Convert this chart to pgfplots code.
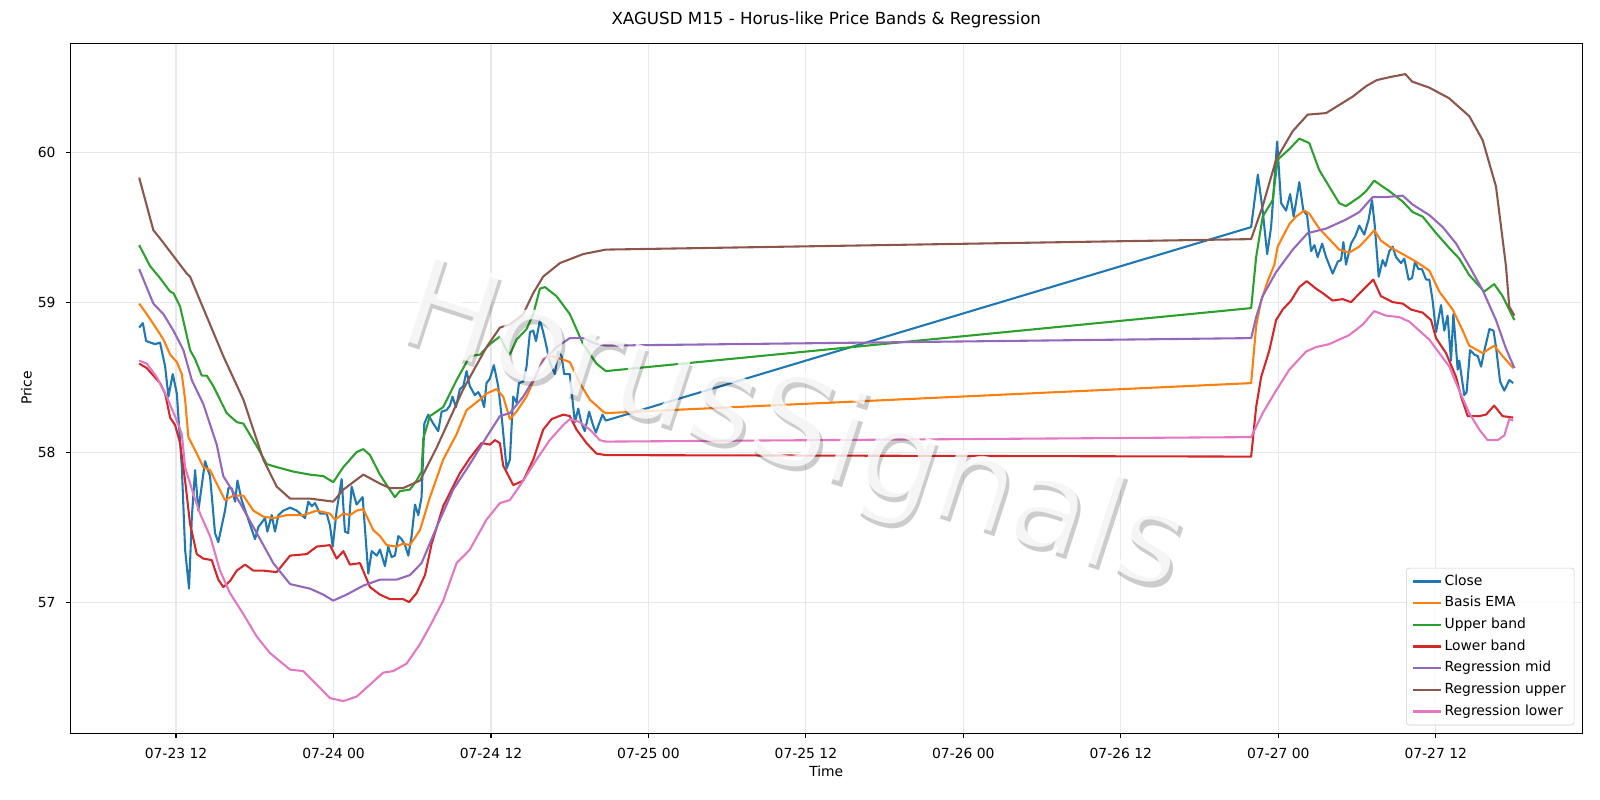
\documentclass[border=0pt]{standalone}
\usepackage{fontspec}
\setmainfont{DejaVu Sans}
\usepackage{pgfplots}
\pgfplotsset{compat=1.18}
\definecolor{c0}{HTML}{1F77B4}
\definecolor{c1}{HTML}{FF7F0E}
\definecolor{c2}{HTML}{2CA02C}
\definecolor{c3}{HTML}{D62728}
\definecolor{c4}{HTML}{9467BD}
\definecolor{c5}{HTML}{8C564B}
\definecolor{c6}{HTML}{E377C2}
\tikzset{wm/.style={rotate=-18, font=\fontsize{90}{106}\selectfont}}
\begin{document}
\begin{tikzpicture}[x=1pt,y=1pt]
\path[use as bounding box] (0,0) rectangle (1152,576);
\begin{axis}[
  at={(50.7pt,48.2pt)}, anchor=south west,
  scale only axis, width=1088.4pt, height=496.8pt,
  xmin=3.95, xmax=119.15, ymin=56.127, ymax=60.727,
  xtick={12,24,36,48,60,72,84,96,108},
  xticklabels={07-23 12,07-24 00,07-24 12,07-25 00,07-25 12,07-26 00,07-26 12,07-27 00,07-27 12},
  ytick={57,58,59,60},
  /pgf/number format/assume math mode=true,
  tick label style={font=\fontsize{10}{12}\selectfont},
  xticklabel style={yshift=-4.2pt},
  yticklabel style={xshift=-3.7pt},
  tick pos=left,
  tick align=outside, major tick length=3.5pt,
  tick style={black, line width=0.8pt},
  axis line style={line width=0.8pt},
  grid=major, major grid style={color=black!9, line width=0.8pt},
  xlabel={Time}, ylabel={Price},
  xlabel style={at={(axis description cs:0.5,-0.055)}, anchor=center, font=\fontsize{10}{12}\selectfont},
  ylabel style={at={(axis description cs:-0.029,0.5)}, anchor=center, font=\fontsize{10}{12}\selectfont},
  title={XAGUSD M15 - Horus-like Price Bands \& Regression},
  title style={at={(0.5,1)}, anchor=base, yshift=7.2pt, font=\fontsize{12}{14}\selectfont},
  legend style={at={(1,0)}, anchor=south east, xshift=-5.6pt, yshift=5.6pt,
    draw=black!20, fill=white, fill opacity=0.8, text opacity=1, rounded corners=2pt,
    font=\fontsize{10}{12}\selectfont, row sep=5.8pt, inner xsep=4pt, inner ysep=4.8pt,
    nodes={text height=7.6pt, text depth=2.2pt, inner ysep=0pt}},
  legend cell align=left,
  legend image code/.code={\draw[#1] (0pt,0pt) -- (20pt,0pt);},
  every axis plot/.append style={line width=1.5pt, line join=round},
]
\addplot[c0] coordinates {(9.19,58.83)(9.47,58.86)(9.72,58.74)(10.40,58.72)(10.78,58.73)(11.17,58.57)(11.42,58.37)(11.75,58.52)(12.06,58.39)(12.44,57.90)(12.69,57.35)(12.99,57.09)(13.20,57.56)(13.45,57.88)(13.70,57.61)(14.21,57.94)(14.59,57.84)(14.97,57.46)(15.22,57.40)(15.73,57.61)(15.99,57.76)(16.24,57.76)(16.50,57.67)(16.68,57.81)(17.00,57.68)(17.51,57.55)(18.02,57.42)(18.27,57.50)(18.78,57.56)(18.96,57.47)(19.29,57.58)(19.54,57.47)(19.80,57.58)(20.18,57.61)(20.69,57.63)(21.20,57.61)(21.83,57.56)(22.08,57.67)(22.34,57.64)(22.59,57.66)(22.97,57.59)(23.48,57.59)(23.73,57.51)(23.94,57.37)(24.24,57.61)(24.62,57.82)(24.87,57.47)(25.12,57.46)(25.38,57.77)(25.76,57.65)(26.22,57.70)(26.65,57.19)(26.91,57.34)(27.29,57.31)(27.54,57.35)(27.92,57.24)(28.17,57.37)(28.43,57.30)(28.68,57.31)(28.94,57.44)(29.19,57.42)(29.45,57.38)(29.70,57.31)(29.95,57.44)(30.21,57.65)(30.46,57.58)(30.71,57.70)(30.92,58.19)(31.22,58.25)(31.60,58.19)(31.98,58.14)(32.24,58.27)(32.62,58.28)(32.87,58.31)(33.07,58.37)(33.33,58.30)(33.63,58.42)(33.89,58.44)(34.14,58.54)(34.39,58.44)(34.77,58.38)(35.03,58.40)(35.28,58.36)(35.48,58.30)(35.66,58.46)(35.92,58.49)(36.22,58.58)(36.55,58.44)(36.81,58.24)(37.19,57.89)(37.44,57.95)(37.69,58.37)(37.95,58.33)(38.13,58.46)(38.46,58.47)(38.71,58.57)(38.97,58.80)(39.22,58.81)(39.43,58.74)(39.73,58.88)(39.98,58.80)(40.24,58.70)(40.48,58.60)(40.87,58.52)(41.12,58.67)(41.38,58.64)(41.58,58.52)(42.01,58.52)(42.27,58.30)(42.39,58.20)(42.65,58.29)(42.90,58.19)(43.15,58.14)(43.48,58.27)(43.74,58.19)(43.99,58.13)(44.24,58.19)(44.50,58.25)(44.75,58.21)
(93.93,59.50)(94.44,59.85)(94.81,59.61)(95.15,59.32)(95.45,59.50)(95.91,60.07)(96.21,59.66)(96.59,59.61)(96.90,59.72)(97.17,59.57)(97.60,59.80)(97.91,59.61)(98.19,59.58)(98.50,59.34)(98.75,59.38)(99.00,59.30)(99.34,59.39)(99.64,59.30)(100.14,59.19)(100.53,59.27)(100.78,59.28)(100.96,59.40)(101.16,59.25)(101.54,59.39)(101.87,59.44)(102.17,59.51)(102.55,59.45)(102.88,59.55)(103.14,59.68)(103.34,59.52)(103.65,59.17)(103.95,59.28)(104.16,59.24)(104.46,59.34)(104.71,59.37)(104.97,59.30)(105.35,59.26)(105.60,59.29)(105.93,59.15)(106.19,59.16)(106.42,59.27)(106.67,59.22)(106.95,59.22)(107.26,59.15)(107.51,59.15)(107.76,59.01)(108.02,58.80)(108.40,58.98)(108.65,58.81)(108.90,58.91)(109.16,58.61)(109.34,58.92)(109.67,58.55)(109.79,58.61)(110.17,58.38)(110.35,58.40)(110.61,58.68)(110.94,58.65)(111.20,58.64)(111.45,58.57)(111.71,58.68)(112.09,58.82)(112.40,58.81)(112.59,58.70)(112.90,58.47)(113.22,58.41)(113.60,58.48)(113.90,58.46)};
\addlegendentry{Close}

\addplot[c1] coordinates {(9.19,58.99)(9.77,58.92)(10.53,58.82)(11.04,58.75)(11.55,58.65)(12.06,58.60)(12.44,58.52)(12.69,58.35)(12.94,58.10)(13.58,57.99)(14.08,57.90)(14.59,57.88)(15.10,57.79)(15.73,57.68)(16.37,57.71)(17.13,57.71)(17.89,57.61)(18.65,57.57)(19.41,57.56)(20.43,57.58)(21.70,57.58)(22.72,57.61)(23.73,57.59)(24.11,57.55)(24.75,57.59)(25.25,57.58)(25.76,57.61)(26.27,57.62)(27.03,57.48)(27.54,57.44)(28.05,57.38)(28.81,57.37)(29.30,57.39)(29.82,57.38)(30.59,57.48)(31.35,57.70)(32.36,57.95)(33.38,58.12)(34.14,58.28)(35.16,58.35)(35.66,58.39)(36.42,58.42)(36.93,58.37)(37.44,58.22)(37.95,58.27)(38.71,58.37)(39.47,58.52)(39.98,58.62)(40.62,58.64)(41.38,58.62)(42.01,58.60)(42.77,58.46)(43.53,58.35)(44.55,58.27)(44.75,58.26)
(93.93,58.46)(94.31,58.84)(94.69,59.01)(95.19,59.14)(95.70,59.25)(95.95,59.37)(96.84,59.52)(97.35,59.57)(97.98,59.61)(98.36,59.59)(99.12,59.49)(99.88,59.42)(100.64,59.35)(101.40,59.33)(102.17,59.37)(102.93,59.44)(103.31,59.48)(103.82,59.41)(104.46,59.37)(105.48,59.32)(106.49,59.27)(107.51,59.21)(108.27,59.07)(109.29,58.95)(110.05,58.81)(110.55,58.71)(111.57,58.66)(112.45,58.71)(113.09,58.64)(113.90,58.56)};
\addlegendentry{Basis EMA}

\addplot[c2] coordinates {(9.19,59.38)(10.02,59.24)(10.78,59.16)(11.55,59.07)(11.80,59.06)(12.31,58.97)(13.07,58.68)(13.45,58.62)(13.96,58.51)(14.34,58.51)(14.84,58.44)(15.86,58.26)(16.63,58.20)(17.13,58.19)(18.15,58.04)(18.91,57.92)(19.67,57.90)(20.94,57.87)(22.20,57.85)(23.22,57.84)(23.98,57.80)(24.75,57.90)(25.76,58.00)(26.27,58.02)(26.78,57.98)(27.54,57.85)(28.05,57.78)(28.68,57.70)(29.06,57.74)(29.82,57.75)(30.33,57.81)(30.71,57.87)(30.84,58.09)(31.35,58.24)(32.36,58.30)(33.38,58.48)(34.39,58.64)(35.16,58.65)(35.92,58.72)(36.68,58.77)(37.19,58.68)(37.44,58.65)(37.95,58.75)(38.71,58.82)(39.22,58.92)(39.73,59.09)(40.11,59.10)(40.99,59.04)(42.01,58.92)(43.02,58.72)(44.04,58.59)(44.75,58.54)
(93.93,58.96)(94.31,59.30)(94.81,59.57)(95.57,59.68)(95.95,59.95)(96.84,60.02)(97.60,60.09)(98.36,60.06)(99.12,59.88)(99.88,59.77)(100.64,59.66)(101.15,59.64)(102.17,59.70)(102.69,59.74)(103.31,59.81)(103.95,59.77)(104.46,59.74)(105.48,59.67)(106.24,59.60)(107.00,59.57)(108.02,59.46)(109.03,59.36)(109.79,59.29)(110.55,59.18)(111.69,59.07)(112.45,59.12)(113.09,59.04)(113.99,58.88)};
\addlegendentry{Upper band}

\addplot[c3] coordinates {(9.19,58.59)(9.77,58.56)(10.78,58.46)(11.17,58.39)(11.55,58.23)(11.93,58.18)(12.31,58.06)(12.69,57.81)(13.07,57.52)(13.58,57.32)(14.08,57.29)(14.72,57.28)(15.22,57.15)(15.60,57.10)(16.11,57.14)(16.63,57.21)(17.26,57.25)(17.89,57.21)(18.65,57.21)(19.67,57.20)(20.69,57.31)(21.96,57.32)(22.72,57.37)(23.73,57.38)(24.24,57.29)(24.75,57.34)(25.25,57.25)(26.02,57.26)(26.78,57.10)(27.54,57.05)(28.30,57.02)(29.30,57.02)(29.77,57.00)(30.33,57.06)(30.97,57.18)(31.48,57.39)(32.36,57.64)(33.63,57.86)(34.39,57.96)(35.28,58.06)(35.92,58.05)(36.30,58.08)(36.68,58.06)(36.93,57.91)(37.70,57.78)(38.46,57.81)(39.22,57.95)(39.98,58.15)(40.62,58.22)(41.50,58.25)(42.01,58.24)(42.52,58.15)(43.28,58.06)(44.04,57.99)(44.75,57.98)
(93.93,57.97)(94.31,58.30)(94.69,58.50)(95.32,58.68)(95.83,58.88)(96.33,58.95)(96.97,59.01)(97.60,59.10)(98.16,59.14)(98.87,59.09)(99.38,59.06)(100.14,59.01)(100.90,59.02)(101.54,59.00)(102.43,59.08)(103.24,59.15)(103.82,59.04)(104.71,59.00)(105.48,58.99)(106.12,58.95)(107.00,58.93)(107.64,58.88)(108.02,58.76)(108.78,58.66)(109.55,58.50)(109.93,58.37)(110.43,58.24)(111.32,58.24)(111.83,58.25)(112.45,58.31)(113.09,58.24)(113.90,58.23)};
\addlegendentry{Lower band}

\addplot[c4] coordinates {(9.19,59.22)(10.27,58.99)(11.04,58.92)(11.80,58.81)(12.56,58.68)(13.20,58.48)(14.08,58.32)(15.10,58.05)(15.60,57.84)(16.88,57.66)(18.15,57.46)(19.41,57.26)(20.69,57.12)(22.20,57.09)(23.22,57.05)(23.98,57.01)(25.00,57.05)(26.27,57.11)(27.54,57.15)(28.81,57.15)(29.82,57.18)(30.71,57.26)(31.86,57.50)(33.12,57.75)(34.39,57.92)(35.66,58.10)(36.68,58.24)(37.44,58.26)(38.46,58.37)(39.22,58.48)(39.98,58.61)(40.99,58.70)(42.01,58.76)(43.02,58.76)(44.04,58.72)(44.75,58.71)
(93.93,58.76)(94.31,58.90)(94.81,59.04)(95.83,59.20)(97.10,59.35)(98.24,59.46)(99.64,59.49)(101.15,59.55)(102.17,59.60)(103.19,59.70)(104.20,59.70)(105.48,59.71)(106.24,59.65)(107.51,59.58)(108.53,59.50)(109.55,59.39)(110.55,59.24)(111.57,59.08)(112.59,58.88)(113.35,58.69)(113.99,58.56)};
\addlegendentry{Regression mid}

\addplot[c5] coordinates {(9.19,59.83)(10.27,59.48)(10.91,59.41)(12.82,59.19)(13.07,59.17)(13.83,59.01)(15.60,58.64)(17.13,58.35)(18.65,57.95)(19.67,57.77)(20.69,57.69)(22.20,57.69)(23.98,57.67)(24.75,57.75)(26.27,57.85)(27.54,57.79)(28.30,57.76)(29.30,57.76)(30.59,57.81)(31.86,58.03)(33.89,58.42)(35.66,58.70)(36.68,58.83)(37.44,58.85)(38.46,58.92)(39.22,59.06)(39.98,59.17)(41.25,59.26)(43.02,59.32)(44.75,59.35)
(93.93,59.42)(94.81,59.64)(95.83,59.95)(97.10,60.14)(98.24,60.25)(99.64,60.26)(101.67,60.37)(102.70,60.44)(103.50,60.48)(104.50,60.50)(105.68,60.52)(106.20,60.47)(107.50,60.43)(109.00,60.36)(110.55,60.24)(111.57,60.08)(112.59,59.77)(113.35,59.24)(113.60,58.97)(113.99,58.91)};
\addlegendentry{Regression upper}

\addplot[c6] coordinates {(9.19,58.61)(9.77,58.59)(10.53,58.50)(11.29,58.37)(12.06,58.21)(12.44,58.12)(12.69,57.90)(13.32,57.72)(13.83,57.59)(14.59,57.44)(15.35,57.21)(16.11,57.06)(17.13,56.92)(18.15,56.77)(19.16,56.66)(20.69,56.55)(21.70,56.54)(22.72,56.45)(23.73,56.36)(24.75,56.34)(25.76,56.37)(26.78,56.45)(27.79,56.53)(28.55,56.54)(29.57,56.59)(30.59,56.72)(31.35,56.84)(32.36,57.01)(33.38,57.26)(34.39,57.35)(35.66,57.55)(36.68,57.66)(37.44,57.68)(38.46,57.81)(39.47,57.95)(40.48,58.08)(41.50,58.18)(42.01,58.22)(42.77,58.20)(43.53,58.15)(44.29,58.08)(44.75,58.07)
(93.93,58.10)(94.81,58.26)(95.83,58.41)(96.84,58.55)(98.11,58.67)(98.87,58.70)(99.88,58.72)(100.64,58.75)(101.40,58.78)(102.43,58.85)(103.31,58.94)(104.20,58.91)(105.22,58.90)(105.98,58.87)(106.74,58.81)(107.51,58.75)(108.27,58.66)(109.03,58.57)(109.79,58.41)(110.55,58.26)(111.32,58.15)(111.95,58.08)(112.71,58.08)(113.22,58.11)(113.60,58.22)(113.90,58.21)};
\addlegendentry{Regression lower}
\end{axis}
\node[wm, text=black, opacity=0.2, xshift=3pt, yshift=-3pt] at (570.6,266.2) {HorusSignals};
\node[wm, text=white, opacity=0.8] at (570.6,266.2) {HorusSignals};
\end{tikzpicture}
\end{document}
